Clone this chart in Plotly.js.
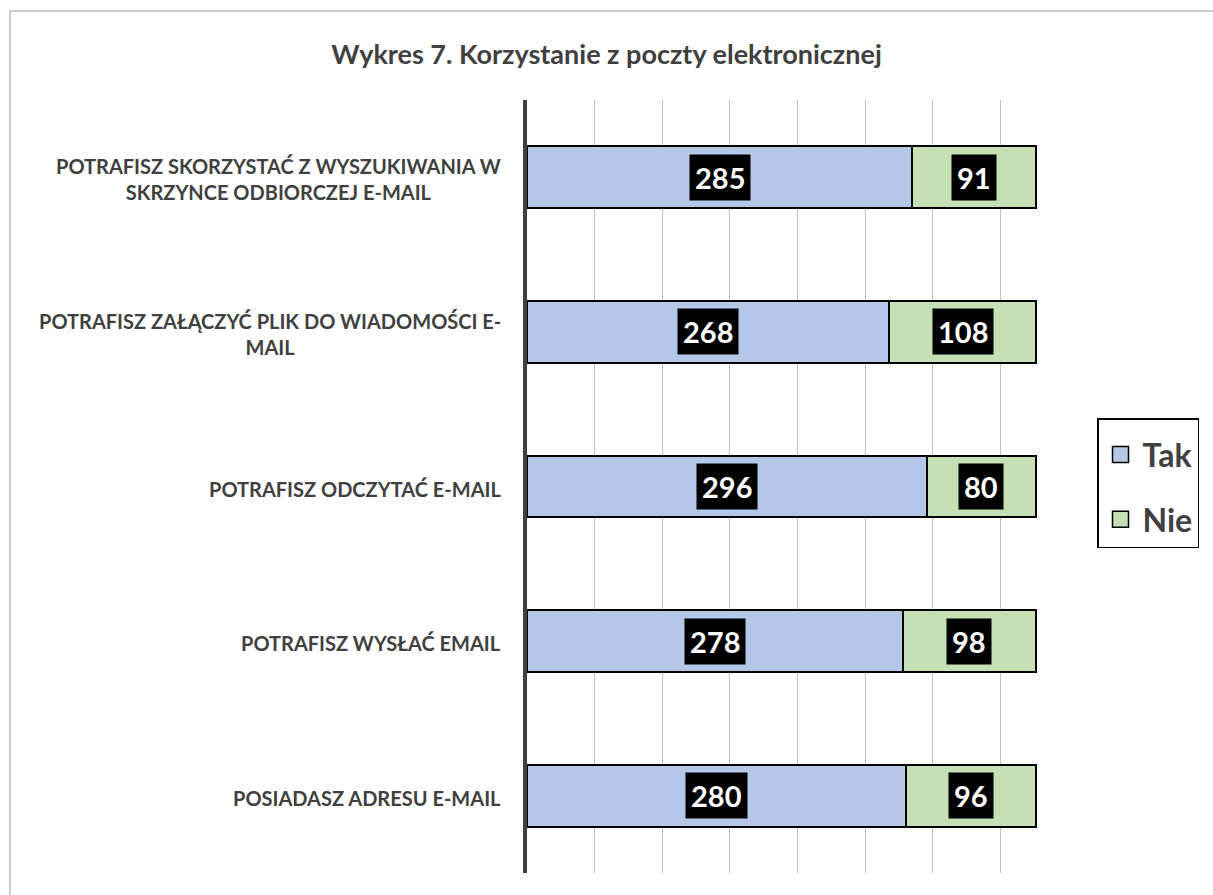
<!DOCTYPE html>
<html>
<head>
<meta charset="utf-8">
<script src="https://cdn.plot.ly/plotly-3.0.1.min.js"></script>
<style>html,body{margin:0;padding:0;background:#fff;}#chart{width:1213px;height:895px;}</style>
</head>
<body>
<div id="chart"></div>
<script>
// Data (top-to-bottom order as in the reference)
const categories = [
  "POTRAFISZ SKORZYSTAĆ Z WYSZUKIWANIA W<br>SKRZYNCE ODBIORCZEJ E-MAIL",
  "POTRAFISZ ZAŁĄCZYĆ PLIK DO WIADOMOŚCI E-<br>MAIL",
  "POTRAFISZ ODCZYTAĆ E-MAIL",
  "POTRAFISZ WYSŁAĆ EMAIL",
  "POSIADASZ ADRESU E-MAIL"
];
const tak = [285, 268, 296, 278, 280];
const nie = [91, 108, 80, 98, 96];
const seriesNames = ["Tak", "Nie"];
const seriesColors = ["#b4c7e7", "#c5e0b4"];

const FONT = "Lato, Carlito, Calibri, 'Open Sans', sans-serif";
const TXT = "#404040";

const traces = [
  {
    type: "bar", orientation: "h", name: seriesNames[0], legendgroup: "g1", showlegend: false,
    y: categories, x: tak,
    marker: {color: seriesColors[0], line: {color: "#000000", width: 2}},
    hoverinfo: "x+name"
  },
  {
    type: "bar", orientation: "h", name: seriesNames[1], legendgroup: "g2", showlegend: false,
    y: categories, x: nie,
    marker: {color: seriesColors[1], line: {color: "#000000", width: 2}},
    hoverinfo: "x+name"
  },
  // legend-only entries (bigger square swatches)
  {
    type: "scatter", mode: "markers", name: seriesNames[0], legendgroup: "g1",
    x: [null], y: [null],
    marker: {symbol: "square", size: 16, color: seriesColors[0], line: {color: "#000000", width: 1.5}}
  },
  {
    type: "scatter", mode: "markers", name: seriesNames[1], legendgroup: "g2",
    x: [null], y: [null],
    marker: {symbol: "square", size: 16, color: seriesColors[1], line: {color: "#000000", width: 1.5}}
  }
];

const annotations = [];
categories.forEach((c, i) => {
  annotations.push({
    xref: "paper", yref: "y", x: 0, y: c, xanchor: "right", yanchor: "middle",
    xshift: -24, yshift: -2, align: "center", showarrow: false, text: c,
    font: {family: FONT, size: 20, color: TXT, weight: "bold"}
  });
  annotations.push({
    xref: "x", yref: "y", x: tak[i] / 2, y: c, showarrow: false,
    text: String(tak[i]), bgcolor: "#000000", borderpad: 5,
    font: {family: FONT, size: 29, color: "#ffffff", weight: "bold"}
  });
  annotations.push({
    xref: "x", yref: "y", x: tak[i] + nie[i] / 2, y: c, showarrow: false,
    text: String(nie[i]), bgcolor: "#000000", borderpad: 5,
    font: {family: FONT, size: 29, color: "#ffffff", weight: "bold"}
  });
});

const layout = {
  width: 1213, height: 895,
  margin: {l: 527, r: 145, t: 100, b: 22, pad: 0},
  paper_bgcolor: "#ffffff", plot_bgcolor: "#ffffff",
  font: {family: FONT, color: TXT},
  title: {
    text: "Wykres 7. Korzystanie z poczty elektronicznej",
    xref: "container", x: 0.5, xanchor: "center",
    yref: "container", y: 1 - 55 / 895, yanchor: "middle",
    font: {family: FONT, size: 27, color: TXT, weight: "bold"}
  },
  barmode: "stack", bargap: 0.6,
  xaxis: {
    range: [0, 400], dtick: 50, tick0: 0, showgrid: true, gridcolor: "#bfbfbf", gridwidth: 1,
    showticklabels: false, zeroline: false, showline: false, ticks: "", fixedrange: true
  },
  yaxis: {
    autorange: "reversed", showticklabels: false, ticks: "", showgrid: false,
    showline: true, linecolor: "#404040", linewidth: 4, zeroline: false, fixedrange: true
  },
  showlegend: true,
  legend: {
    x: (1097 - 527) / 541, xanchor: "left", y: (873 - 418) / 773, yanchor: "top",
    bgcolor: "#ffffff", bordercolor: "#000000", borderwidth: 1.5,
    traceorder: "grouped", tracegroupgap: 20, itemwidth: 34,
    title: {text: " ", font: {size: 6}},
    font: {family: FONT, size: 32, color: TXT, weight: "bold"}
  },
  annotations: annotations,
  shapes: [{
    type: "rect", xref: "paper", yref: "paper",
    x0: (10 - 527) / 541, x1: (1230 - 527) / 541,
    y0: (873 - 910) / 773, y1: (873 - 11) / 773,
    line: {color: "#bfbfbf", width: 1.5}, fillcolor: "rgba(0,0,0,0)", layer: "below"
  }]
};

Plotly.newPlot("chart", traces, layout, {displayModeBar: false, staticPlot: true});
</script>
</body>
</html>
